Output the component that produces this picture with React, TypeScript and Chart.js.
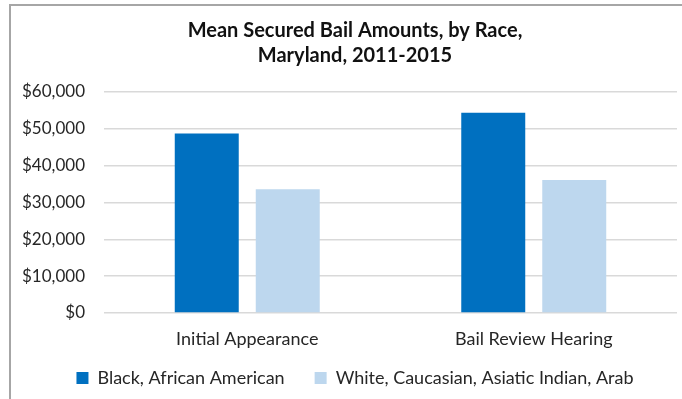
import React, { useEffect, useRef } from "react";
import { Chart, registerables } from "chart.js";

Chart.register(...registerables);

const categories = ["Initial Appearance", "Bail Review Hearing"];
const seriesNames = ["Black, African American", "White, Caucasian, Asiatic Indian, Arab"];
const blackValues = [48700, 54400];
const whiteValues = [33600, 36100];
const titleLines = ["Mean Secured Bail Amounts, by Race,", "Maryland, 2011-2015"];
const yMin = 0;
const yMax = 60000;
const yStep = 10000;

const FONT = "Lato, 'Open Sans', sans-serif";

const widenLabelClip = {
  id: "widenLabelClip",
  afterLayout(chart: any) {
    const x = chart.scales.x;
    if (x) x.bottom = x.top + 45;
    const y = chart.scales.y;
    if (y) y.left = 0;
  },
};

export default function App() {
  const ref = useRef<HTMLCanvasElement | null>(null);

  useEffect(() => {
    document.body.style.margin = "0";
    document.body.style.overflow = "hidden";
    const canvas = ref.current;
    if (!canvas) return;
    const chart = new Chart(canvas, {
      type: "bar",
      data: {
        labels: categories,
        datasets: [
          {
            label: seriesNames[0],
            data: blackValues,
            backgroundColor: "#0070c0",
            categoryPercentage: 0.5654,
            barPercentage: 0.79,
          },
          {
            label: seriesNames[1],
            data: whiteValues,
            backgroundColor: "#bdd7ee",
            categoryPercentage: 0.5654,
            barPercentage: 0.79,
          },
        ],
      },
      plugins: [widenLabelClip],
      options: {
        responsive: false,
        animation: false,
        layout: { padding: { left: 33, right: 33, top: 0, bottom: 2 } },
        plugins: {
          tooltip: { enabled: false },
          title: {
            display: true,
            text: titleLines,
            color: "#111111",
            font: { family: FONT, size: 20, weight: "bold", lineHeight: 1.25 },
            padding: { top: 18.5, bottom: 23.5 },
          },
          legend: {
            display: true,
            position: "bottom",
            labels: {
              boxWidth: 12,
              boxHeight: 12,
              padding: 30,
              color: "#262626",
              font: { family: FONT, size: 18 },
            },
          },
        },
        scales: {
          x: {
            grid: { display: false, drawTicks: false },
            border: { display: false },
            ticks: {
              color: "#262626",
              padding: 15,
              font: { family: FONT, size: 18 },
            },
            afterFit: (scale: any) => {
              scale.height = 26;
            },
          },
          y: {
            min: yMin,
            max: yMax,
            grid: { color: "#d9d9d9", lineWidth: 1.5, drawTicks: false },
            border: { display: false },
            ticks: {
              stepSize: yStep,
              color: "#262626",
              padding: 19,
              font: { family: FONT, size: 17 },
              callback: (v: any) => "$" + Number(v).toLocaleString("en-US"),
            },
            afterFit: (scale: any) => {
              scale.width = 71;
            },
          },
        },
      },
    });
    return () => chart.destroy();
  }, []);

  return (
    <div style={{ position: "relative", width: 682, height: 399, overflow: "hidden", background: "#fff" }}>
      <div
        style={{
          position: "absolute",
          left: 9,
          top: 4,
          width: 700,
          height: 420,
          borderLeft: "2px solid #a6a6a6",
          borderTop: "2px solid #a6a6a6",
        }}
      />
      <canvas ref={ref} width={710} height={399} style={{ position: "absolute", left: 0, top: 0 }} />
    </div>
  );
}
